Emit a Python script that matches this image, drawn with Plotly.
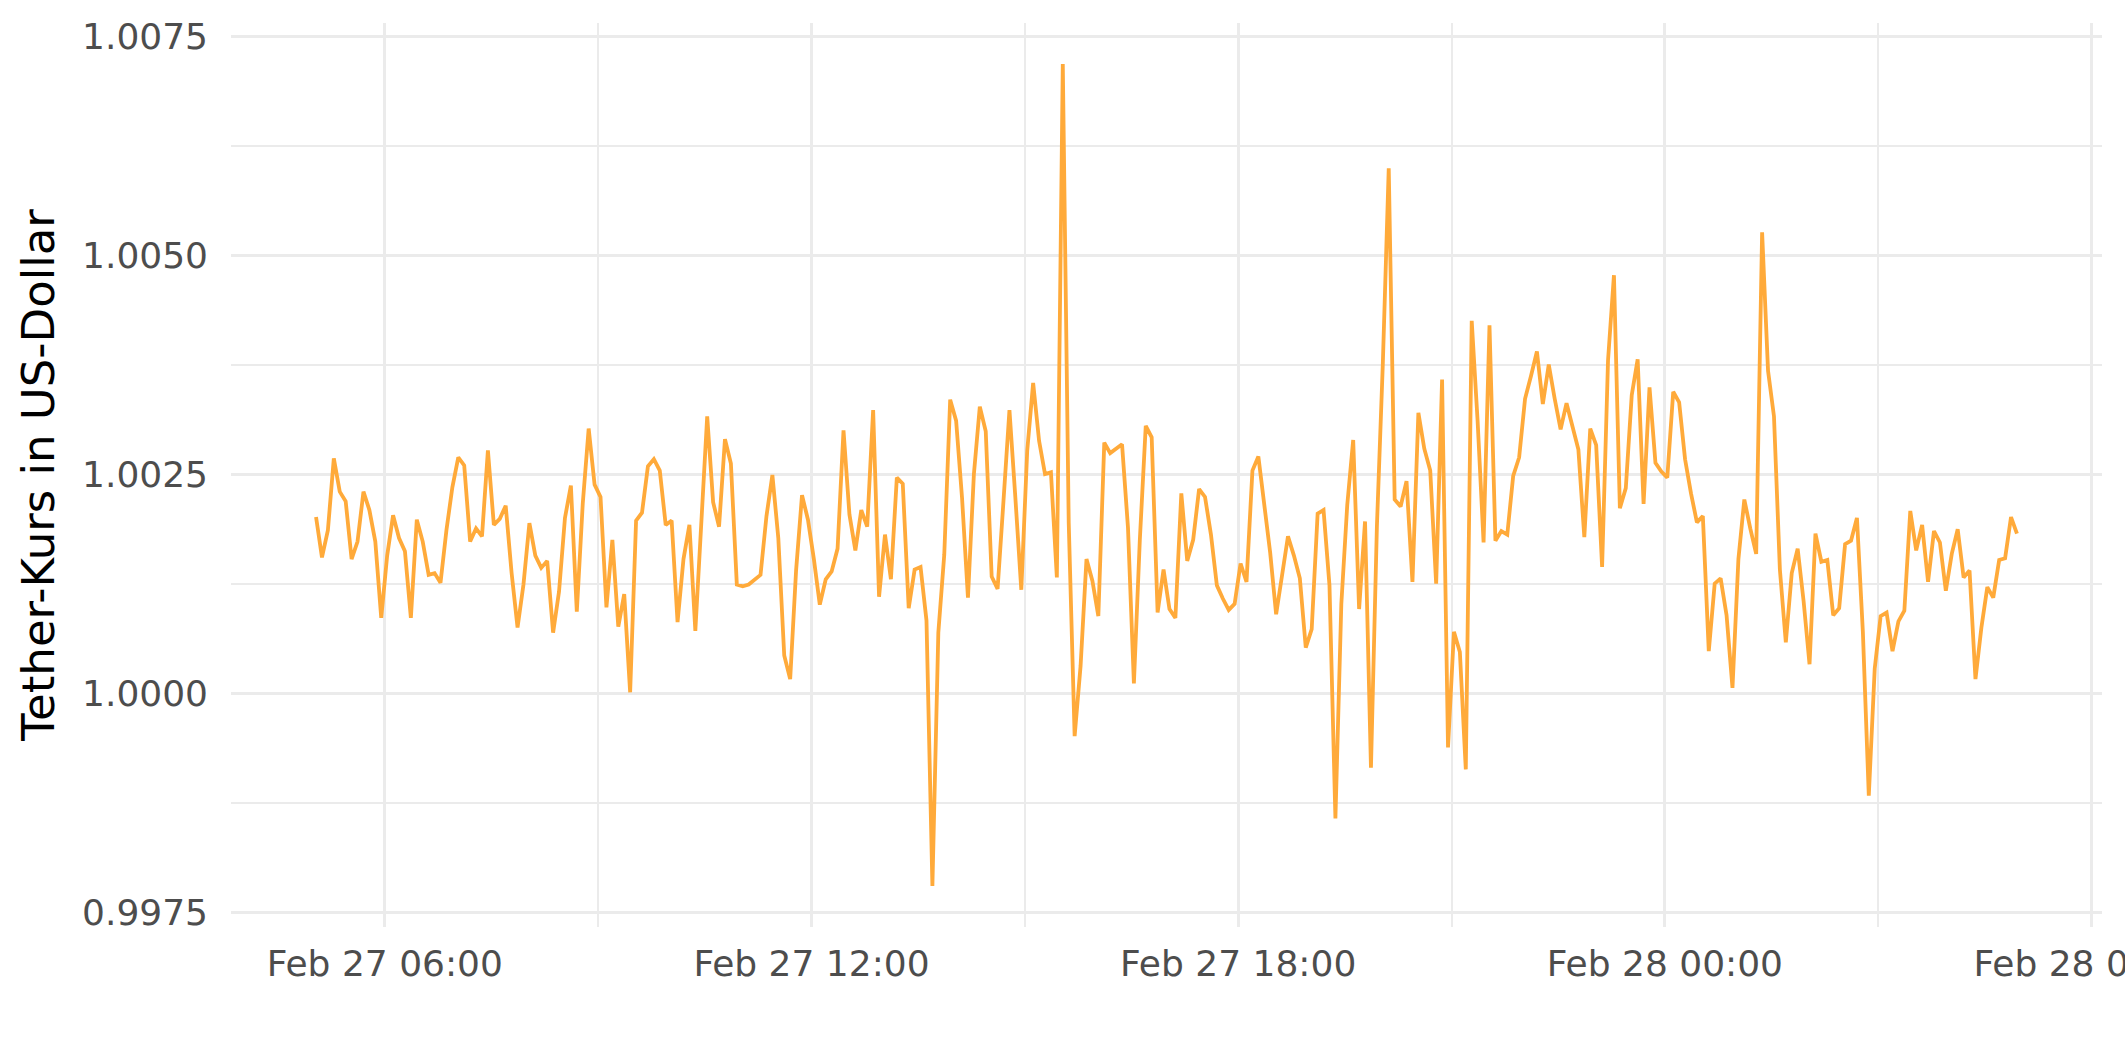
import pandas as pd
import plotly.graph_objects as go

start_time = "2022-02-27 05:02"
interval = "5min"

usdt_price = [
    1.00201, 1.00155, 1.00186, 1.00268, 1.00230, 1.00219, 1.00153, 1.00173, 1.00230, 1.00209,
    1.00173, 1.00086, 1.00157, 1.00203, 1.00177, 1.00162, 1.00086, 1.00198, 1.00173, 1.00135,
    1.00137, 1.00126, 1.00186, 1.00235, 1.00269, 1.00260, 1.00173, 1.00188, 1.00179, 1.00277,
    1.00192, 1.00199, 1.00214, 1.00137, 1.00075, 1.00124, 1.00194, 1.00157, 1.00143, 1.00151,
    1.00069, 1.00116, 1.00200, 1.00237, 1.00093, 1.00216, 1.00302, 1.00238, 1.00224, 1.00098,
    1.00175, 1.00076, 1.00113, 1.00001, 1.00197, 1.00206, 1.00259, 1.00267, 1.00254, 1.00192,
    1.00197, 1.00081, 1.00153, 1.00192, 1.00071, 1.00194, 1.00316, 1.00218, 1.00190, 1.00290,
    1.00262, 1.00124, 1.00122, 1.00124, 1.00129, 1.00135, 1.00202, 1.00249, 1.00177, 1.00043,
    1.00016, 1.00140, 1.00226, 1.00198, 1.00153, 1.00101, 1.00130, 1.00139, 1.00165, 1.00300,
    1.00204, 1.00163, 1.00209, 1.00190, 1.00323, 1.00110, 1.00181, 1.00130, 1.00246, 1.00239,
    1.00097, 1.00141, 1.00144, 1.00083, 0.99780, 1.00069, 1.00158, 1.00335, 1.00311, 1.00223,
    1.00109, 1.00250, 1.00327, 1.00299, 1.00133, 1.00119, 1.00220, 1.00323, 1.00223, 1.00118,
    1.00277, 1.00354, 1.00288, 1.00250, 1.00252, 1.00132, 1.00718, 1.00195, 0.99951, 1.00031,
    1.00153, 1.00128, 1.00088, 1.00286, 1.00274, 1.00279, 1.00284, 1.00189, 1.00011, 1.00175,
    1.00305, 1.00292, 1.00092, 1.00141, 1.00096, 1.00086, 1.00228, 1.00151, 1.00175, 1.00233,
    1.00224, 1.00181, 1.00123, 1.00108, 1.00095, 1.00102, 1.00148, 1.00127, 1.00254, 1.00270,
    1.00215, 1.00160, 1.00090, 1.00138, 1.00179, 1.00157, 1.00131, 1.00052, 1.00073, 1.00205,
    1.00209, 1.00123, 0.99857, 1.00102, 1.00215, 1.00289, 1.00096, 1.00196, 0.99915, 1.00190,
    1.00376, 1.00599, 1.00221, 1.00213, 1.00242, 1.00127, 1.00320, 1.00279, 1.00254, 1.00125,
    1.00358, 0.99938, 1.00070, 1.00047, 0.99913, 1.00425, 1.00310, 1.00172, 1.00420, 1.00174,
    1.00185, 1.00181, 1.00248, 1.00269, 1.00336, 1.00362, 1.00390, 1.00330, 1.00375, 1.00336,
    1.00301, 1.00331, 1.00304, 1.00278, 1.00178, 1.00302, 1.00283, 1.00144, 1.00380, 1.00477,
    1.00211, 1.00234, 1.00340, 1.00381, 1.00216, 1.00349, 1.00263, 1.00253, 1.00246, 1.00344,
    1.00332, 1.00267, 1.00228, 1.00195, 1.00202, 1.00048, 1.00125, 1.00131, 1.00089, 1.00006,
    1.00153, 1.00221, 1.00188, 1.00159, 1.00526, 1.00368, 1.00316, 1.00141, 1.00058, 1.00137,
    1.00165, 1.00105, 1.00033, 1.00182, 1.00150, 1.00152, 1.00089, 1.00097, 1.00170, 1.00174,
    1.00200, 1.00070, 0.99883, 1.00028, 1.00088, 1.00092, 1.00048, 1.00082, 1.00094, 1.00208,
    1.00163, 1.00192, 1.00127, 1.00185, 1.00172, 1.00117, 1.00159, 1.00187, 1.00132, 1.00140,
    1.00016, 1.00075, 1.00121, 1.00109, 1.00152, 1.00154, 1.00201, 1.00182,
]

times = pd.date_range(start=start_time, periods=len(usdt_price), freq=interval)

y_tick_values = [0.9975, 1.0000, 1.0025, 1.0050, 1.0075]
y_tick_labels = ["0.9975", "1.0000", "1.0025", "1.0050", "1.0075"]

# ggplot-style 5% expansion of the data range
t0, t1 = times[0], times[-1]
pad_t = (t1 - t0) * 0.05
ymin, ymax = min(usdt_price), max(usdt_price)
pad_y = (ymax - ymin) * 0.05

fig = go.Figure()
fig.add_trace(go.Scatter(
    x=times, y=usdt_price, mode="lines",
    line=dict(color="#FFAA3A", width=3.8),
    showlegend=False,
))

grid_major = "#EBEBEB"
fig.update_layout(
    width=2125, height=1062,
    margin=dict(l=231, r=23, t=23, b=135),
    paper_bgcolor="white", plot_bgcolor="white",
    font=dict(family="DejaVu Sans", color="#4D4D4D", size=36),
    xaxis=dict(
        range=[t0 - pad_t, t1 + pad_t],
        tick0="2022-02-27 00:00", dtick=6 * 3600 * 1000,
        tickformat="%b %d %H:%M",
        showgrid=True, gridcolor=grid_major, gridwidth=3.2,
        minor=dict(dtick=3 * 3600 * 1000, showgrid=True, gridcolor=grid_major, gridwidth=1.6),
        zeroline=False, showline=False, ticks="", ticklen=0,
        tickfont=dict(family="DejaVu Sans", size=36, color="#4D4D4D"),
        ticklabeloverflow="allow",
        ticklabelstandoff=12,
        automargin=False,
    ),
    yaxis=dict(
        range=[ymin - pad_y, ymax + pad_y],
        tickvals=y_tick_values, ticktext=y_tick_labels,
        showgrid=True, gridcolor=grid_major, gridwidth=3.2,
        minor=dict(tick0=0.9975, dtick=0.00125, showgrid=True, gridcolor=grid_major, gridwidth=1.6),
        zeroline=False, showline=False, ticks="", ticklen=0,
        tickfont=dict(family="DejaVu Sans", size=36, color="#4D4D4D"),
        ticklabelstandoff=22,
        title=dict(text="Tether-Kurs in US-Dollar",
                   font=dict(family="DejaVu Sans", size=45, color="black"),
                   standoff=13),
        automargin=False,
    ),
)

fig.write_html("out.html", config={"displayModeBar": False},
               post_script="document.body.style.margin='0px';")
